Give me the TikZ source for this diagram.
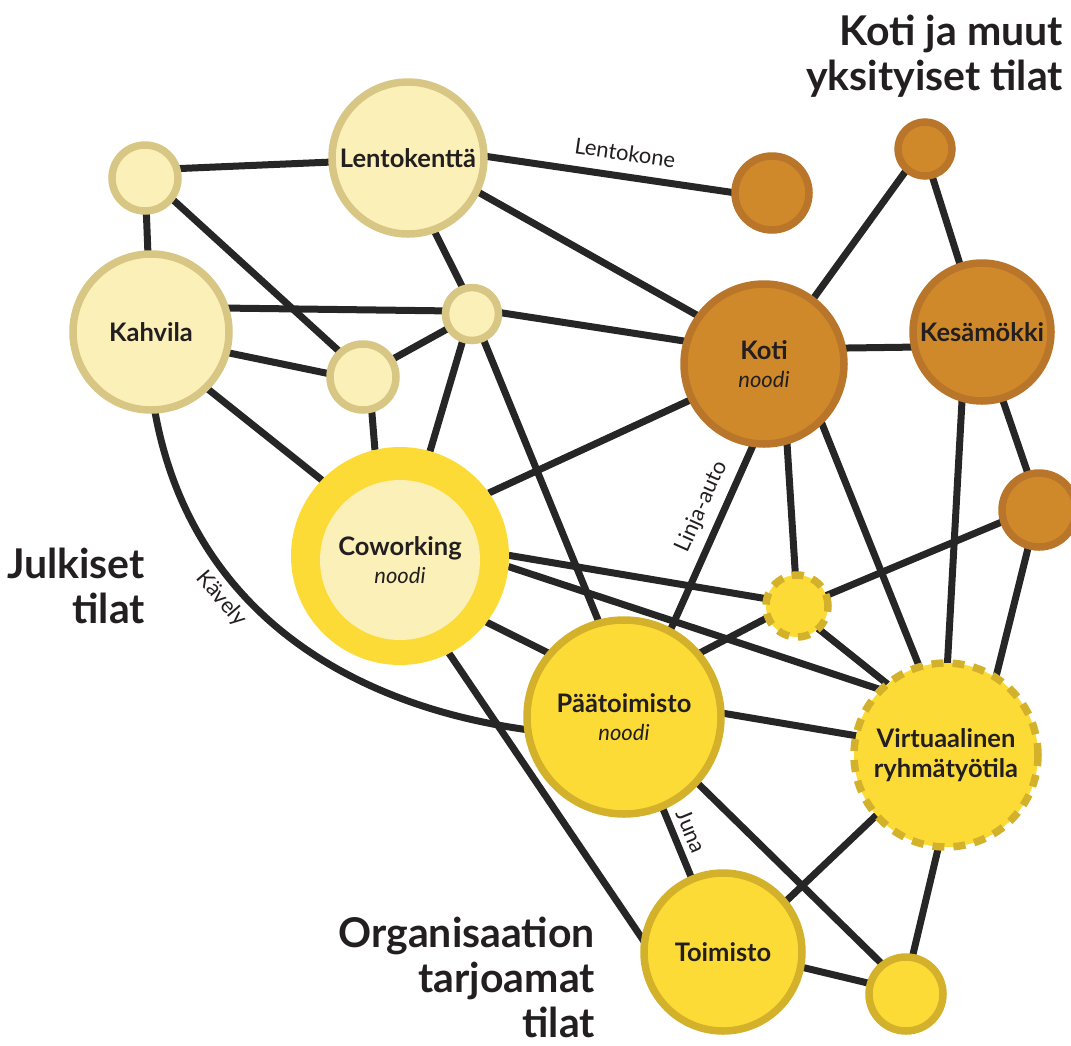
\documentclass[tikz,border=0pt]{standalone}
\usepackage{fontspec}
\setmainfont{Lato}
\usetikzlibrary{backgrounds}
\definecolor{palefill}{HTML}{FBF0B8}
\definecolor{paleline}{HTML}{D8C784}
\definecolor{sunfill}{HTML}{FDDB36}
\definecolor{sunline}{HTML}{D4B12B}
\definecolor{rustfill}{HTML}{D0892A}
\definecolor{rustline}{HTML}{B9752A}
\definecolor{wirecol}{HTML}{262626}
\definecolor{ink}{HTML}{231F20}

\begin{document}
\begin{tikzpicture}[x=1pt, y=-1pt,
	spot/.style={circle, inner sep=0pt, line width=7.5pt, minimum size=#1, text=ink, align=center, font=\fontsize{25.5}{30}\selectfont\bfseries},
	pale/.style={spot=#1, fill=palefill, draw=paleline},
	sun/.style={spot=#1, fill=sunfill, draw=sunline},
	rust/.style={spot=#1, fill=rustfill, draw=rustline},
	virtual/.style={sun=#1, dash pattern=on 12pt off 9pt},
	wire/.style={line width=7pt, draw=wirecol, shorten <=-4pt, shorten >=-4pt},
	tag/.style={font=\fontsize{22}{24}\selectfont, text=ink, inner sep=0pt, sloped},
	group/.style={font=\fontsize{41}{45}\selectfont\bfseries, text=ink, align=right, inner sep=0pt, anchor=north east}]
	\useasboundingbox (0,0) rectangle (1071,1045);
	% public places
	\node[pale=66] (pubA) at (145,178) {};
	\node[pale=152] (airport) at (408,158) {Lentokenttä};
	\node[pale=156] (cafe) at (151,332) {Kahvila};
	\node[pale=53] (pubB) at (472,314) {};
	\node[pale=66] (pubC) at (363,377) {};
	\node[spot=218, fill=sunfill] (cowork) at (400,556) {};
	\node[spot=160, fill=palefill] (coworkin) at (400,560) {Coworking\\[-2pt]{\fontsize{22}{30}\selectfont\mdseries\itshape noodi}};
	% home and other private places
	\node[rust=74] (privA) at (772,193) {};
	\node[rust=54] (privB) at (925,149) {};
	\node[rust=160] (home) at (764,364) {Koti\\[-2pt]{\fontsize{22}{30}\selectfont\mdseries\itshape noodi}};
	\node[rust=138] (cottage) at (982,332) {Kesämökki};
	\node[rust=74] (privC) at (1039,510) {};
	% places offered by the organisation
	\node[virtual=62] (virtA) at (797,606) {};
	\node[sun=194] (hq) at (624,717) {Päätoimisto\\[-2pt]{\fontsize{22}{30}\selectfont\mdseries\itshape noodi}};
	\node[virtual=184] (virtual) at (946,755) {Virtuaalinen\\ryhmätyötila};
	\node[sun=158] (office) at (723,952) {Toimisto};
	\node[sun=74] (orgB) at (906,994) {};
	% connections
	\begin{scope}[on background layer]
		\draw[wire] (pubA.15) -- (airport.183);
		\draw[wire] (pubA) -- (cafe);
		\draw[wire] (pubA.-38) -- (pubC.133);
		\draw[wire] (airport.1) -- node[tag, above=12pt, pos=0.55] {Lentokone} (privA.179);
		\draw[wire] (airport.-26) -- (home.144);
		\draw[wire] (airport.-70) -- (pubB.110);
		\draw[wire] (cafe.17) -- (pubB.174);
		\draw[wire] (cafe.-15) -- (pubC.174);
		\draw[wire] (cafe.-45) -- (cowork.136);
		\draw[wire] (cafe.-87) .. controls +(33,187) and +(-188,-26) .. node[tag, below=5pt, pos=0.37] {Kävely} (hq.187);
		\draw[wire] (pubB.2) -- (home.164);
		\draw[wire] (pubB.251) -- (cowork.74);
		\draw[wire] (pubB.-66) -- (hq.105);
		\draw[wire] (pubC.31) -- (pubB.211);
		\draw[wire] (pubC.-76) -- (cowork.103);
		\draw[wire] (home.206) -- (cowork.35);
		\draw[wire] (home.53) -- (privB.229);
		\draw[wire] (home.11) -- (cottage.192);
		\draw[wire] (home.262) -- node[tag, above=8pt, pos=0.38] {Linja-auto} (hq.62);
		\draw[wire] (home.-74) -- (virtA.93);
		\draw[wire] (home.-46) -- (virtual.107);
		\draw[wire] (privB.-75) -- (cottage.108);
		\draw[wire] (cottage.254) -- (virtual.89);
		\draw[wire] (cottage.-73) -- (privC.107);
		\draw[wire] (privC.198) -- (virtA.20);
		\draw[wire] (privC.254) -- (virtual.58);
		\draw[wire] (cowork.0) -- (virtA.167);
		\draw[wire] (cowork.-6) -- (virtual.136);
		\draw[wire] (cowork.-37) -- (hq.140);
		\draw[wire] (cowork.-63) -- (office.170);
		\draw[wire] (hq.40) -- (virtA.202);
		\draw[wire] (virtA.-46) -- (virtual.130);
		\draw[wire] (hq.2) -- (virtual.168);
		\draw[wire] (hq.-67) -- node[tag, above=6pt, pos=0.43] {Juna} (office.113);
		\draw[wire] (hq.-42) -- (orgB.129);
		\draw[wire] (virtual.221) -- (office.39);
		\draw[wire] (virtual.265) -- (orgB.80);
		\draw[wire] (office.-11) -- (orgB.164);
	\end{scope}
	% group labels
	\node[group] (lblPrivate) at (1063,15) {Koti ja muut\\yksityiset tilat};
	\node[group] (lblPublic) at (145,548) {Julkiset\\tilat};
	\node[group] (lblOrg) at (595,917) {Organisaation\\tarjoamat\\tilat};
\end{tikzpicture}
\end{document}
